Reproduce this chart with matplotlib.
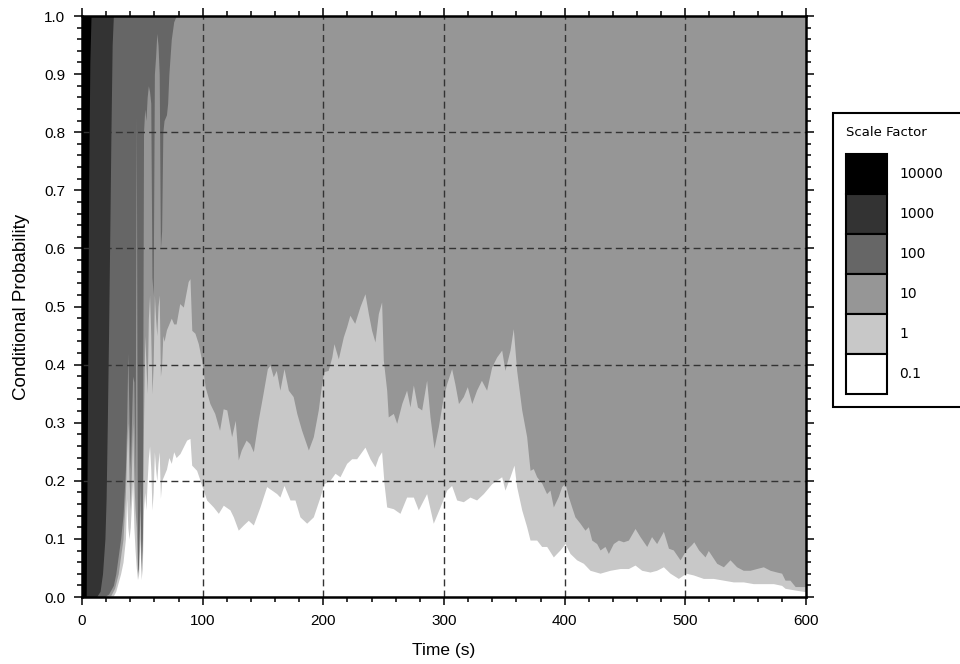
# import libraries

import numpy as np
import matplotlib.pyplot as plt
from matplotlib.patches import Patch
from matplotlib.ticker import MultipleLocator

# scale factors and their grey levels (legend top to bottom)
scale_labels = ['10000', '1000', '100', '10', '1', '0.1']
scale_colors = ['#000000', '#333333', '#666666', '#969696', '#c8c8c8', '#ffffff']

# cumulative probability P(scale <= 1000)
t_1000 = [0, 3.5, 4.5, 5.5, 6.5, 7.5, 600]
p_1000 = [0, 0, 0.3, 0.7, 0.92, 1.0, 1.0]

# cumulative probability P(scale <= 100)
t_100 = [0, 12, 15, 17, 19, 20, 21, 22, 23, 24, 25, 26, 600]
p_100 = [0, 0, 0.01, 0.04, 0.1, 0.17, 0.3, 0.45, 0.62, 0.8, 0.95, 1.0, 1.0]

# cumulative probability P(scale <= 10)
t_10 = [0, 18, 22, 26, 28, 30, 32, 34, 36, 37, 38, 39, 40, 41, 42, 43, 44, 45,
        46, 47, 48, 49, 50, 51, 52, 53, 54, 55, 56, 57, 58, 59, 60, 61, 62, 63,
        64, 65, 66, 67, 68, 70, 71, 72, 74, 76, 78, 600]
p_10 = [0, 0, 0.005, 0.02, 0.04, 0.07, 0.1, 0.14, 0.22, 0.3, 0.42, 0.3, 0.22,
        0.3, 0.38, 0.37, 0.2, 0.83, 0.04, 0.06, 0.2, 0.05, 0.1, 0.8, 0.84, 0.82,
        0.86, 0.88, 0.87, 0.85, 0.55, 0.52, 0.9, 0.93, 0.97, 0.95, 0.9, 0.6,
        0.63, 0.8, 0.82, 0.83, 0.85, 0.9, 0.96, 0.99, 1.0, 1.0]

# cumulative probability P(scale <= 1)
t_1 = [0, 20, 24, 27, 30, 32, 34, 36, 37, 38, 39, 40, 41, 42, 43, 44, 45, 46,
       47, 48, 49, 50, 51, 52, 53, 54, 55, 56, 57, 58, 59, 60, 61, 62, 63, 64,
       65, 66, 67, 68, 70, 72, 74, 76, 78, 81, 84, 88, 89.5, 91, 93.6, 96.4,
       99.7, 102, 106, 110, 114, 117, 120, 124, 127, 129.5, 132, 136, 139, 142,
       146, 150, 153.6, 155.8, 158.5, 161, 164, 167.4, 171, 175, 178, 182,
       187.6, 191.7, 195.8, 198.6, 200.5, 204, 207, 208.8, 212.4, 216.6, 219.3,
       222, 226, 230.4, 234.5, 237.3, 240, 242.8, 245.6, 248.3, 249.7, 252.5,
       253.8, 258, 260.8, 265, 269, 271.8, 274.6, 278, 281.5, 285.6, 288.4,
       291.7, 295.3, 299.4, 302.2, 306.3, 309, 312, 316, 319.3, 323, 327, 331,
       335.3, 339.5, 343.6, 347.8, 350.5, 354.7, 357.4, 360.2, 364.4, 368.5,
       371.3, 374, 376.8, 381, 385, 387.8, 390.6, 394.7, 397.5, 400.3, 403,
       405.8, 408.5, 412.7, 416.8, 419.6, 422.4, 426.5, 429.3, 433.4, 436.2,
       440.3, 444.5, 448.6, 452.8, 458.3, 462.4, 468, 472, 476.2, 481.8, 486,
       490, 495.6, 500.5, 505, 507, 511, 516.3, 519, 526, 531.5, 537, 542.5,
       548, 553.6, 559, 564.6, 570.2, 575.7, 579.8, 582.6, 586.7, 591, 595, 600]
p_1 = [0, 0, 0.003, 0.015, 0.04, 0.07, 0.1, 0.18, 0.25, 0.3, 0.2, 0.15, 0.22,
       0.3, 0.2, 0.15, 0.12, 0.04, 0.05, 0.15, 0.04, 0.08, 0.3, 0.45, 0.4, 0.35,
       0.48, 0.52, 0.45, 0.35, 0.4, 0.52, 0.48, 0.45, 0.5, 0.52, 0.38, 0.4,
       0.45, 0.44, 0.46, 0.47, 0.48, 0.47, 0.47, 0.505, 0.499, 0.543, 0.548,
       0.459, 0.454, 0.436, 0.402, 0.362, 0.333, 0.316, 0.287, 0.324, 0.322,
       0.276, 0.304, 0.236, 0.253, 0.27, 0.264, 0.25, 0.304, 0.35, 0.393,
       0.399, 0.379, 0.39, 0.356, 0.393, 0.356, 0.345, 0.316, 0.287, 0.253,
       0.276, 0.322, 0.367, 0.388, 0.39, 0.413, 0.436, 0.41, 0.448, 0.465,
       0.485, 0.471, 0.5, 0.522, 0.488, 0.459, 0.439, 0.488, 0.508, 0.408,
       0.356, 0.31, 0.316, 0.299, 0.333, 0.356, 0.327, 0.365, 0.327, 0.322,
       0.373, 0.31, 0.256, 0.293, 0.345, 0.367, 0.393, 0.367, 0.333, 0.345,
       0.362, 0.333, 0.356, 0.373, 0.356, 0.396, 0.413, 0.425, 0.39, 0.425,
       0.462, 0.39, 0.322, 0.276, 0.218, 0.221, 0.207, 0.196, 0.178, 0.184,
       0.155, 0.173, 0.19, 0.196, 0.173, 0.155, 0.138, 0.127, 0.115, 0.121,
       0.098, 0.092, 0.081, 0.087, 0.075, 0.092, 0.098, 0.095, 0.098, 0.118,
       0.104, 0.087, 0.104, 0.092, 0.113, 0.084, 0.081, 0.064, 0.081, 0.09,
       0.095, 0.081, 0.069, 0.08, 0.058, 0.052, 0.064, 0.052, 0.046, 0.046,
       0.049, 0.052, 0.046, 0.043, 0.041, 0.029, 0.029, 0.018, 0.018, 0.018]

# cumulative probability P(scale <= 0.1)
t_01 = [0, 22, 26, 28, 30, 32, 34, 36, 37, 38, 39, 40, 41, 42, 43, 44, 45, 46,
        47, 48, 49, 50, 51, 52, 53, 54, 55, 56, 57, 58, 59, 60, 61, 62, 63, 64,
        65, 66, 68, 70, 72, 74, 76, 78, 81.2, 86.7, 89.5, 90.9, 95, 97.8, 100.5,
        103.3, 108.8, 113, 117.1, 122.6, 125.4, 129.5, 133.7, 137.8, 142, 147.5,
        153, 157.2, 161.3, 164, 167.4, 172.4, 176.5, 180.6, 186.2, 191.7, 197.2,
        200.5, 205.5, 209.7, 213.8, 219.3, 223.5, 227.6, 234.5, 238.7, 242.8,
        245.6, 248.3, 250.3, 252.5, 258, 263.5, 269, 274.6, 278.7, 285.6, 291.1,
        296.7, 302.2, 306.3, 310.5, 316, 321.5, 327, 332.6, 339.5, 343.6, 347.8,
        350.5, 354.7, 358, 360.2, 364.4, 368.5, 371.3, 376.8, 380.9, 385.1,
        390.6, 396.1, 400.3, 404.4, 409.9, 415.5, 421, 429.3, 437.6, 445.9,
        452.8, 458.3, 463.8, 470.7, 476.2, 481.8, 487.3, 494.2, 500.5, 506.6,
        514.9, 523.2, 531.5, 539.8, 548.1, 556.4, 564.6, 573, 579.8, 582.6,
        590.9, 600]
p_01 = [0, 0, 0.002, 0.01, 0.025, 0.04, 0.06, 0.1, 0.17, 0.12, 0.1, 0.12, 0.16,
        0.2, 0.12, 0.08, 0.05, 0.03, 0.04, 0.1, 0.03, 0.05, 0.15, 0.18, 0.15,
        0.2, 0.24, 0.26, 0.22, 0.15, 0.18, 0.25, 0.22, 0.2, 0.23, 0.25, 0.17,
        0.2, 0.21, 0.22, 0.24, 0.23, 0.25, 0.24, 0.247, 0.27, 0.273, 0.227,
        0.218, 0.201, 0.184, 0.167, 0.155, 0.144, 0.158, 0.15, 0.138, 0.115,
        0.124, 0.132, 0.124, 0.155, 0.19, 0.184, 0.178, 0.172, 0.192, 0.167,
        0.167, 0.138, 0.127, 0.138, 0.172, 0.195, 0.201, 0.213, 0.207, 0.23,
        0.238, 0.238, 0.258, 0.238, 0.224, 0.241, 0.25, 0.195, 0.155, 0.152,
        0.144, 0.172, 0.172, 0.15, 0.178, 0.127, 0.155, 0.184, 0.192, 0.167,
        0.164, 0.172, 0.167, 0.178, 0.195, 0.201, 0.207, 0.184, 0.207, 0.227,
        0.19, 0.15, 0.121, 0.098, 0.098, 0.087, 0.087, 0.069, 0.081, 0.092,
        0.075, 0.064, 0.058, 0.046, 0.041, 0.046, 0.049, 0.049, 0.055, 0.046,
        0.043, 0.046, 0.052, 0.041, 0.032, 0.041, 0.038, 0.032, 0.032, 0.029,
        0.026, 0.026, 0.023, 0.023, 0.023, 0.02, 0.015, 0.012, 0.009]

fig = plt.figure(figsize=(9.6, 6.64), dpi=100)
ax = fig.add_axes([0.0854, 0.1009, 0.7542, 0.875])

# layers drawn from the largest scale factor down, each one from 0 up
ax.fill_between([0, 600], 0, 1, color=scale_colors[0], lw=0)
layers = [(t_1000, p_1000), (t_100, p_100), (t_10, p_10), (t_1, p_1), (t_01, p_01)]
for (tt, pp), c in zip(layers, scale_colors[1:]):
    ax.fill_between(tt, 0, pp, color=c, lw=0)

# dashed grid on top of the areas
for x in [100, 200, 300, 400, 500]:
    ax.axvline(x, color='#333333', ls=(0, (5, 3)), lw=1, zorder=3)
for y in [0.2, 0.4, 0.6, 0.8]:
    ax.axhline(y, color='#333333', ls=(0, (5, 3)), lw=1, zorder=3)

ax.set_xlim(0, 600)
ax.set_ylim(0, 1)
ax.xaxis.set_major_locator(MultipleLocator(100))
ax.xaxis.set_minor_locator(MultipleLocator(20))
ax.yaxis.set_major_locator(MultipleLocator(0.1))
ax.yaxis.set_minor_locator(MultipleLocator(0.02))
ax.tick_params(which='both', direction='out', top=True, right=True,
               labelsize=11, width=1.1)
ax.tick_params(which='major', length=6, pad=6)
ax.tick_params(which='minor', length=3.5)
for lab in ax.get_xticklabels() + ax.get_yticklabels():
    lab.set_family('Liberation Sans')
for s in ax.spines.values():
    s.set_linewidth(1.8)
    s.set_zorder(4)

ax.set_xlabel('Time (s)', size=12.5, family='Liberation Sans', labelpad=11)
ax.set_ylabel('Conditional Probability', size=13.5, family='Liberation Sans',
              labelpad=10)

# legend with stacked grey squares, box runs past the right edge
handles = [Patch(facecolor=c, edgecolor='black', lw=1.5) for c in scale_colors]
leg = fig.legend(handles, scale_labels, title='Scale Factor\n',
                 loc='upper left', bbox_to_anchor=(0.8677, 0.0, 0.16, 0.83),
                 mode='expand', fontsize=10, title_fontsize=9.5,
                 handlelength=2.95, handleheight=4.05, labelspacing=0,
                 handletextpad=0.85, borderpad=0.95, borderaxespad=0,
                 fancybox=False, edgecolor='black', framealpha=1,
                 alignment='left')
leg.get_frame().set_linewidth(1.5)

plt.savefig('out.png', dpi=100)
